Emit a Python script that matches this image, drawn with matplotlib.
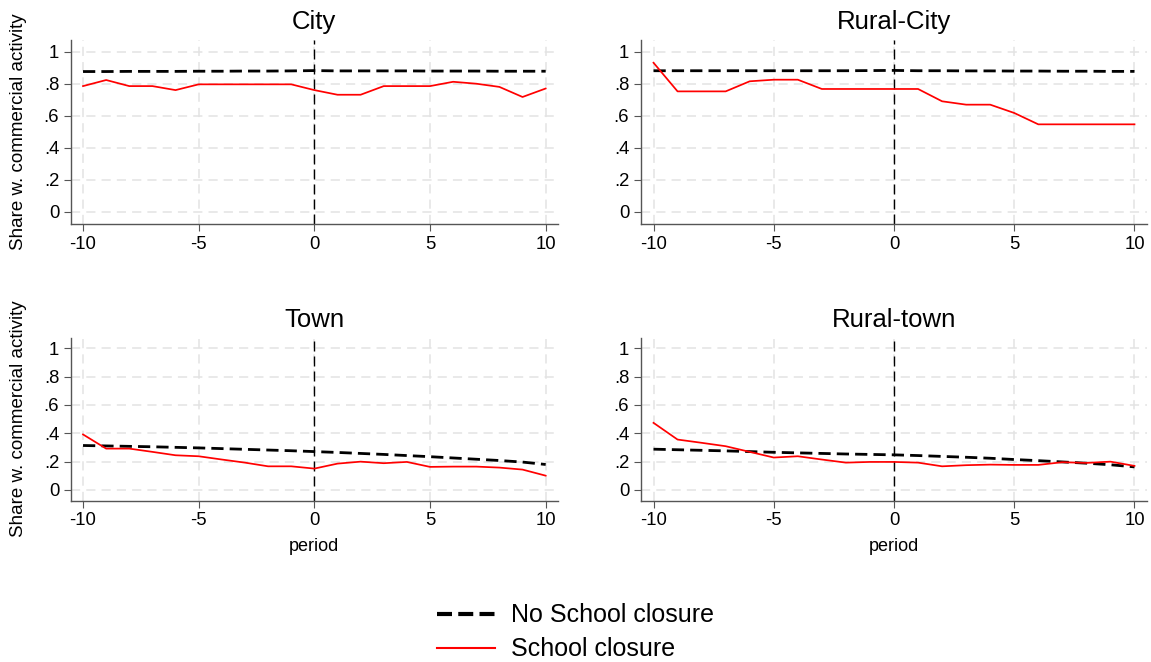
import numpy as np
import matplotlib
matplotlib.use('Agg')
import matplotlib.pyplot as plt
from matplotlib.lines import Line2D

plt.rcParams['font.family'] = ['Liberation Sans', 'DejaVu Sans']
plt.rcParams['axes.unicode_minus'] = False

# event time
period = list(range(-10, 11))

titles = ['City', 'Rural-City', 'Town', 'Rural-town']

# share with commercial activity, school closure areas
closure = {
    'City': [0.785, 0.823, 0.785, 0.785, 0.760, 0.796, 0.796, 0.796, 0.796, 0.796, 0.760,
             0.731, 0.731, 0.785, 0.785, 0.785, 0.812, 0.800, 0.780, 0.717, 0.770],
    'Rural-City': [0.931, 0.752, 0.752, 0.752, 0.815, 0.825, 0.825, 0.767, 0.767, 0.767, 0.767,
                   0.767, 0.690, 0.669, 0.669, 0.617, 0.546, 0.546, 0.546, 0.546, 0.546],
    'Town': [0.392, 0.292, 0.292, 0.269, 0.245, 0.238, 0.215, 0.193, 0.167, 0.167, 0.151,
             0.186, 0.200, 0.189, 0.198, 0.163, 0.165, 0.165, 0.158, 0.144, 0.101],
    'Rural-town': [0.474, 0.356, 0.333, 0.309, 0.269, 0.229, 0.238, 0.215, 0.193, 0.198, 0.198,
                   0.193, 0.167, 0.175, 0.179, 0.177, 0.177, 0.196, 0.191, 0.200, 0.170],
}

# no school closure (fitted)
no_closure = {
    'City': [0.876, 0.876, 0.877, 0.877, 0.877, 0.878, 0.878, 0.879, 0.879, 0.880, 0.882,
             0.880, 0.880, 0.880, 0.880, 0.879, 0.879, 0.879, 0.878, 0.878, 0.878],
    'Rural-City': [0.881, 0.881, 0.881, 0.881, 0.881, 0.881, 0.881, 0.881, 0.881, 0.882, 0.883,
                   0.881, 0.881, 0.880, 0.880, 0.879, 0.879, 0.878, 0.878, 0.877, 0.877],
    'Town': [0.314, 0.311, 0.308, 0.305, 0.301, 0.297, 0.292, 0.287, 0.282, 0.277, 0.271,
             0.265, 0.258, 0.251, 0.243, 0.235, 0.226, 0.217, 0.208, 0.197, 0.180],
    'Rural-town': [0.288, 0.284, 0.280, 0.276, 0.271, 0.266, 0.262, 0.258, 0.254, 0.251, 0.248,
                   0.243, 0.237, 0.231, 0.224, 0.215, 0.207, 0.198, 0.189, 0.178, 0.163],
}

yticks = [0, 0.2, 0.4, 0.6, 0.8, 1]
ytick_labels = ['0', '.2', '.4', '.6', '.8', '1']
xticks = [-10, -5, 0, 5, 10]

W, H = 1151, 662
fig = plt.figure(figsize=(W / 100, H / 100), dpi=100)

# pixel boxes: left, top, right, bottom
boxes = [(71, 39.7, 557.7, 223.7), (641, 39.7, 1147, 223.7),
         (71, 337.7, 557.7, 500.6), (641, 337.7, 1147, 500.6)]

for i, name in enumerate(titles):
    l, t, r, b = boxes[i]
    ax = fig.add_axes([l / W, 1 - b / H, (r - l) / W, (b - t) / H])
    ax.set_xlim(-10.52, 10.52)
    ax.set_ylim(-0.075, 1.075)
    ax.set_yticks(yticks)
    ax.set_yticklabels(ytick_labels)
    ax.set_xticks(xticks)
    ax.grid(True, color='#e3e3e3', linestyle=(0, (6, 4)), linewidth=1.1)
    ax.set_axisbelow(True)
    for s in ['top', 'right']:
        ax.spines[s].set_visible(False)
    for s in ['left', 'bottom']:
        ax.spines[s].set_color('#555555')
        ax.spines[s].set_linewidth(1)
    ax.tick_params(labelsize=13.3, length=5, color='#555555', pad=3.5)
    ax.axvline(0, color='black', linewidth=1, dashes=(7.2, 3.6))
    ax.plot(period, no_closure[name], color='black', linewidth=2, dashes=(4.4, 2.2))
    ax.plot(period, closure[name], color='red', linewidth=1.25)
    ax.set_title(name, fontsize=18.5, pad=8)
    if i % 2 == 0:
        ax.set_ylabel('Share w. commercial activity', fontsize=13.5)
        ax.yaxis.set_label_coords(-0.09, 0.5)
    if i >= 2:
        ax.set_xlabel('period', fontsize=13, labelpad=6)

handles = [Line2D([], [], color='black', linewidth=3, dashes=(3.6, 1.5)),
           Line2D([], [], color='red', linewidth=1.5)]
fig.legend(handles, ['No School closure', 'School closure'],
           loc='center', bbox_to_anchor=(0.5, 1 - 632.5 / H), frameon=False,
           fontsize=18, handlelength=2.3, handletextpad=0.65, labelspacing=0.4)

fig.savefig('out.png', dpi=100)
